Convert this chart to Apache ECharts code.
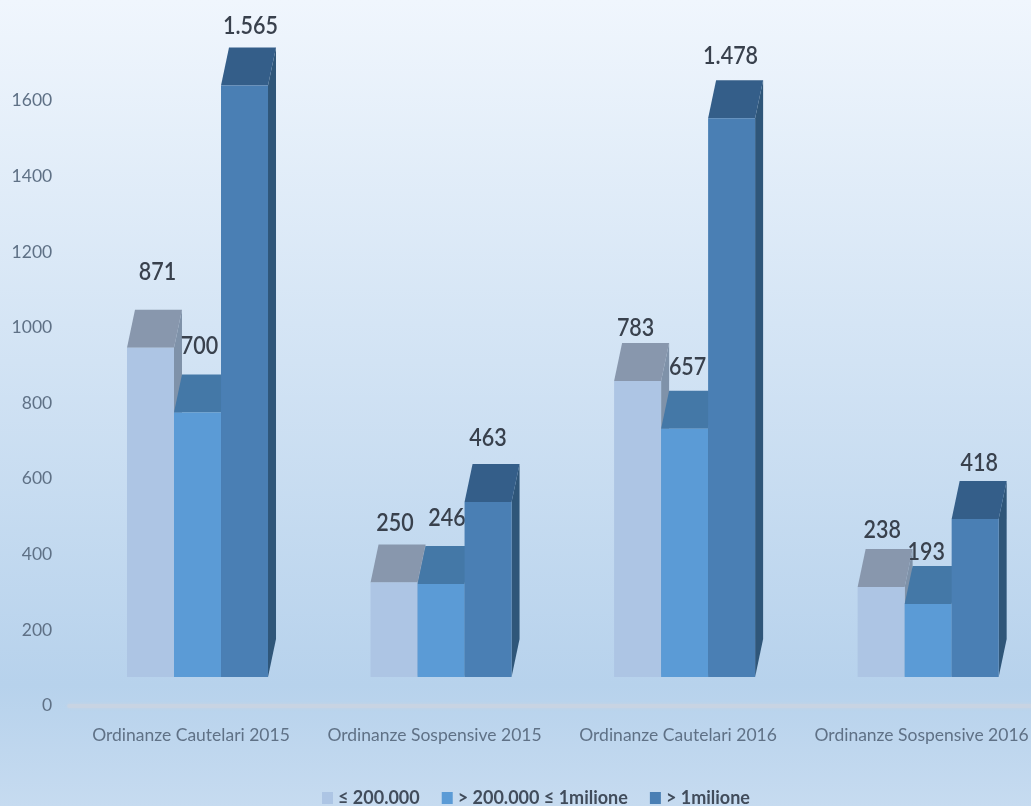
<!DOCTYPE html>
<html>
<head>
<meta charset="utf-8">
<style>html,body{margin:0;padding:0;background:#c4daef}#chart{width:1031px;height:806px}</style>
<script src="https://cdn.jsdelivr.net/npm/echarts@6/dist/echarts.min.js"></script>
</head>
<body>
<div id="chart"></div>
<script>
// Ordinanze per fascia di valore
const categories = ['Ordinanze Cautelari 2015', 'Ordinanze Sospensive 2015', 'Ordinanze Cautelari 2016', 'Ordinanze Sospensive 2016'];
const fasciaBassa = [871, 250, 783, 238];
const fasciaMedia = [700, 246, 657, 193];
const fasciaAlta = [1565, 463, 1478, 418];
const seriesNames = ['≤ 200.000', '> 200.000 ≤ 1milione', '> 1milione'];

// Hand-placed value labels: offset from the centre of the bar's back top edge
const labelNudges = [
  [[3, -38], [-2, -28], [2, -21]],
  [[-3, -22], [2, -28], [-4, -26]],
  [[-6, -15], [-1, -24], [-5, -24]],
  [[-3, -19], [-6, -14], [0, -18]]
];

const palette = [
  { front: '#adc5e4', top: '#8897ad', side: '#7f92a9' },
  { front: '#5b9bd6', top: '#4478a7', side: '#3f6f9c' },
  { front: '#4a7fb4', top: '#345e89', side: '#2f5679' }
];

const FONT = 'Lato, "Open Sans", sans-serif';
const DEPTH_X = 8, DEPTH_Y = 38, FLOOR_LIFT = 28.5;

const formatValue = v => String(v).replace(/\B(?=(\d{3})+$)/g, '.');

function bar3d(seriesIndex) {
  const col = palette[seriesIndex];
  return function (params, api) {
    const cat = api.value(0), val = api.value(1);
    const base = api.coord([cat, 0]);
    const tip = api.coord([cat, val]);
    const band = api.size([1, 0])[0];
    const w = band * 0.193;
    const x0 = base[0] - band * 0.2627 + seriesIndex * w;
    const x1 = x0 + w;
    const yb = base[1] - FLOOR_LIFT;
    const yt = tip[1] - FLOOR_LIFT;
    const nudge = labelNudges[cat][seriesIndex];
    const poly = (points, fill) => ({ type: 'polygon', shape: { points }, style: { fill } });
    const lx = (x0 + x1) / 2 + DEPTH_X / 2 + nudge[0];
    const ly = yt - DEPTH_Y + nudge[1];
    return {
      type: 'group',
      children: [
        poly([[x1, yt], [x1 + DEPTH_X, yt - DEPTH_Y], [x1 + DEPTH_X, yb - DEPTH_Y], [x1, yb]], col.side),
        poly([[x0, yt], [x1, yt], [x1 + DEPTH_X, yt - DEPTH_Y], [x0 + DEPTH_X, yt - DEPTH_Y]], col.top),
        { type: 'rect', shape: { x: x0, y: yt, width: w, height: yb - yt }, style: { fill: col.front } },
        {
          type: 'text', z2: 50,
          x: lx, y: ly, scaleX: 0.86,
          style: {
            text: formatValue(val),
            align: 'center', verticalAlign: 'middle',
            font: '600 25px ' + FONT, fill: '#39414d'
          }
        }
      ]
    };
  };
}

const values = [fasciaBassa, fasciaMedia, fasciaAlta];
const chart = echarts.init(document.getElementById('chart'), null, { renderer: 'canvas' });
chart.setOption({
  animation: false,
  backgroundColor: {
    type: 'linear', x: 0, y: 0, x2: 0, y2: 1,
    colorStops: [
      { offset: 0, color: '#f0f6fd' },
      { offset: 0.85, color: '#b7d2ec' },
      { offset: 1, color: '#c6dbf0' }
    ]
  },
  grid: { left: 69.2, right: -12.4, top: 100.7, bottom: 100.5, outerBoundsMode: 'none', containLabel: false },
  legend: {
    left: 322, top: 789, padding: 0, itemWidth: 11, itemHeight: 12, itemGap: 22,
    icon: 'rect',
    data: seriesNames,
    textStyle: { fontFamily: FONT, fontSize: 18, fontWeight: 'bold', color: '#414c5b' }
  },
  xAxis: {
    type: 'category', data: categories,
    axisTick: { show: false },
    axisLine: { lineStyle: { color: '#c8d4e3', width: 4, shadowBlur: 3, shadowColor: '#c8d4e3' } },
    axisLabel: { margin: 21, interval: 0, fontFamily: FONT, fontSize: 17.5, color: '#5f7186', hideOverlap: false }
  },
  yAxis: {
    type: 'value', min: 0, max: 1600, interval: 200,
    axisLine: { show: false }, axisTick: { show: false }, splitLine: { show: false },
    axisLabel: { margin: 17, padding: [3, 0, 0, 0], fontFamily: FONT, fontSize: 17.5, color: '#5f7186', formatter: v => String(v) }
  },
  series: seriesNames.map((name, i) => ({
    name, type: 'custom', clip: false,
    itemStyle: { color: palette[i].front },
    encode: { x: 0, y: 1 },
    data: values[i].map((v, c) => [c, v]),
    renderItem: bar3d(i),
    z: 2 + i
  }))
});
</script>
</body>
</html>
